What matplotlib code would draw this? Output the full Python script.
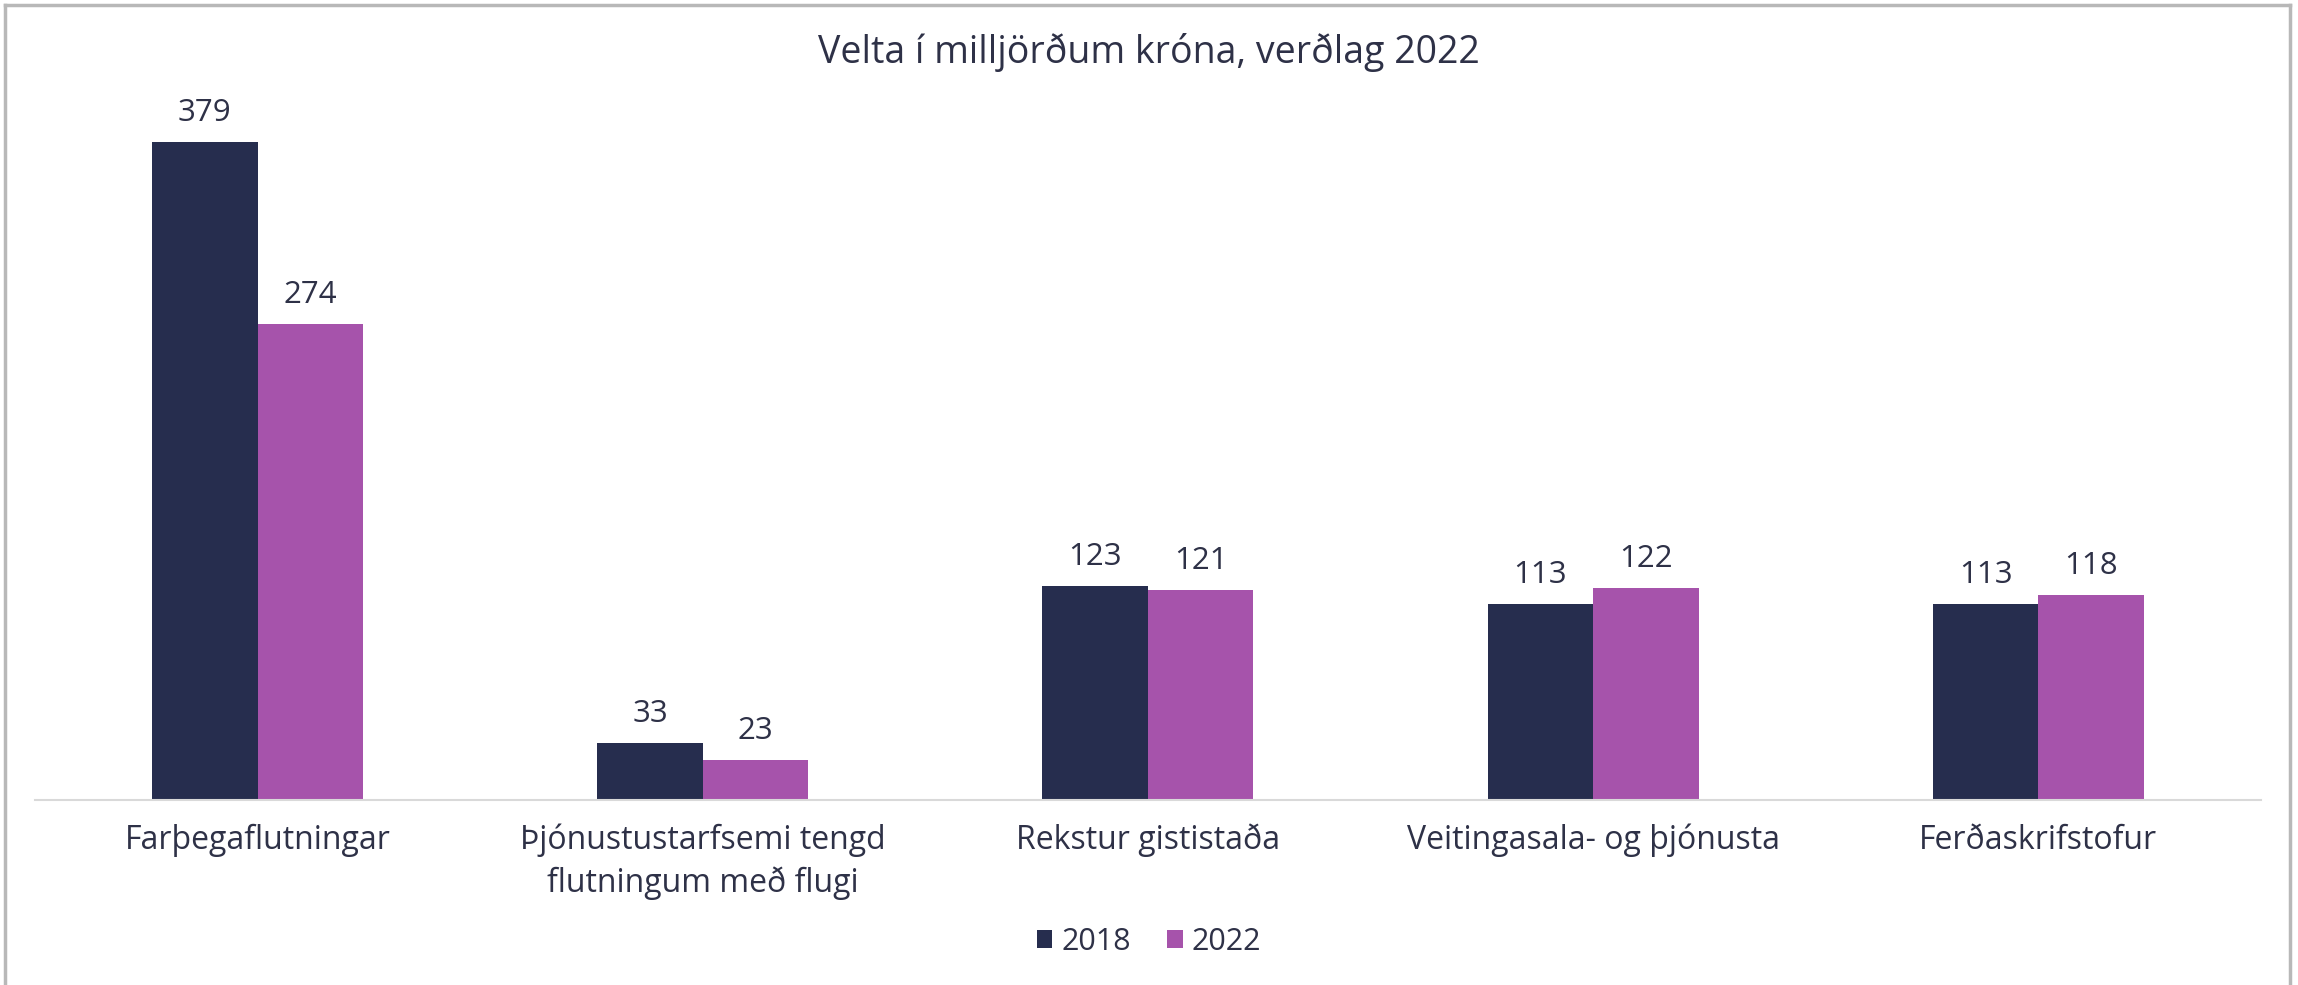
import matplotlib.pyplot as plt
import numpy as np
from matplotlib.lines import Line2D

plt.rcParams['font.family'] = ['Open Sans', 'DejaVu Sans']

categories = ['Farþegaflutningar', 'Þjónustustarfsemi tengd\nflutningum með flugi',
              'Rekstur gististaða', 'Veitingasala- og þjónusta', 'Ferðaskrifstofur']
years = ['2018', '2022']
values_2018 = [379, 33, 123, 113, 113]
values_2022 = [274, 23, 121, 122, 118]

colors = ['#262d4e', '#a653ab']
text_color = '#2e3147'

fig = plt.figure(figsize=(22.98, 9.85), dpi=100)
ax = fig.add_axes([0.0152, 0.1878, 0.9687, 0.7406])

x = np.arange(len(categories))
width = 0.237
bars1 = ax.bar(x - width / 2, values_2018, width, color=colors[0], label=years[0])
bars2 = ax.bar(x + width / 2, values_2022, width, color=colors[1], label=years[1])

for bars in (bars1, bars2):
    for bar in bars:
        ax.annotate(f'{bar.get_height():.0f}',
                    xy=(bar.get_x() + bar.get_width() / 2, bar.get_height()),
                    xytext=(0, 10), textcoords='offset points',
                    ha='center', va='bottom', fontsize=22.5, color=text_color)

ax.set_xlim(-0.5, 4.5)
ax.set_ylim(0, 420)
ax.set_yticks([])
ax.set_xticks(x)
ax.set_xticklabels(categories, fontsize=23, color=text_color, linespacing=1.36)
ax.tick_params(axis='x', length=0, pad=17)
for side in ['top', 'right', 'left']:
    ax.spines[side].set_visible(False)
ax.spines['bottom'].set_color('#d9d9d9')
ax.spines['bottom'].set_linewidth(1.5)

fig.text(0.5, 0.947, 'Velta í milljörðum króna, verðlag 2022', ha='center', va='center',
         fontsize=27, color=text_color)

leg = fig.legend(loc='center', bbox_to_anchor=(0.5, 0.044), ncol=2, frameon=False,
                 fontsize=22, handlelength=0.5, handleheight=0.5, handletextpad=0.3,
                 columnspacing=1.2)
for t in leg.get_texts():
    t.set_color(text_color)

# outer border (left, top, right)
border = dict(color='#b8b8b8', linewidth=2.5, transform=fig.transFigure)
fig.add_artist(Line2D([5 / 2298, 5 / 2298], [0, 1 - 5 / 985], **border))
fig.add_artist(Line2D([5 / 2298, 2290 / 2298], [1 - 5 / 985, 1 - 5 / 985], **border))
fig.add_artist(Line2D([2290 / 2298, 2290 / 2298], [0, 1 - 5 / 985], **border))

fig.savefig('out.png', dpi=100)
